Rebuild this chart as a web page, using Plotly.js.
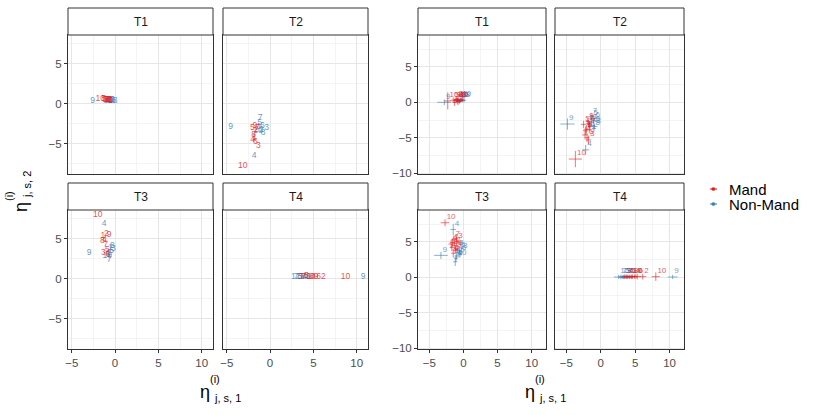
<!DOCTYPE html>
<html>
<head>
<meta charset="utf-8">
<script src="https://cdn.plot.ly/plotly-3.0.1.min.js"></script>
<style>html,body{margin:0;padding:0;background:#fff}#chart{width:830px;height:415px}</style>
</head>
<body>
<div id="chart"></div>
<script>
// ---------- data ----------
const pointLabels = ["1","2","3","4","5","6","7","8","9","10"];
const panelNames = ["T1","T2","T3","T4"];
const seriesNames = ["Mand","Non-Mand"];
const seriesColors = ["#E41A1C","#377EB8"];

// left group (point estimates, drawn as labels); one list per panel T1..T4
const leftMandX = [
  [-0.9,-0.6,-1.1,-0.8,-1.3,-0.5,-1.0,-0.7,-1.2,-1.7],
  [-1.8,-1.6,-1.35,-2.0,-2.05,-1.7,-1.5,-1.9,-1.75,-3.15],
  [-1.4,-1.0,-1.35,-1.2,-0.9,-0.8,-1.1,-1.45,-0.7,-2.0],
  [4.5,6.15,3.5,5.0,4.2,5.6,3.9,4.8,5.3,8.7]
];
const leftMandY = [
  [0.5,0.45,0.55,0.5,0.6,0.4,0.5,0.55,0.45,0.6],
  [-4.2,-3.3,-5.2,-4.5,-2.96,-4.8,-3.0,-3.9,-2.8,-7.7],
  [5.4,5.6,3.3,4.9,3.6,3.0,4.2,4.8,5.5,8.0],
  [0.3,0.3,0.25,0.3,0.35,0.3,0.3,0.25,0.3,0.3]
];
const leftNonX = [
  [-0.6,-0.3,-0.5,-0.9,-0.4,-0.2,-0.7,0.0,-2.6,-0.8],
  [-1.3,-1.0,-0.4,-1.85,-1.2,-0.9,-1.15,-0.8,-4.55,-1.4],
  [-0.5,-0.7,-0.2,-1.25,-0.4,-0.8,-0.7,-0.3,-3.0,-0.9],
  [2.7,3.2,3.6,4.0,3.4,4.4,3.0,3.8,10.75,4.6]
];
const leftNonY = [
  [0.4,0.45,0.35,0.4,0.5,0.4,0.45,0.4,0.35,0.4],
  [-2.9,-3.3,-3.05,-6.45,-2.4,-2.7,-1.8,-3.6,-2.85,-3.4],
  [3.9,3.3,3.75,6.9,3.5,3.1,2.4,4.1,3.3,2.9],
  [0.3,0.3,0.3,0.3,0.3,0.3,0.3,0.3,0.3,0.3]
];

// right group (estimates with uncertainty crosses)
const rightMandX = [
  [-1.2,-0.6,-1.0,-0.8,-1.5,-0.4,-1.3,-0.9,-0.2,-2.3],
  [-2.2,-1.8,-1.8,-2.3,-2.5,-2.0,-1.6,-2.1,-1.9,-3.7],
  [-1.6,-1.3,-1.0,-1.8,-1.2,-1.5,-1.4,-1.7,-1.1,-2.7],
  [4.4,6.1,3.5,4.9,4.1,5.3,3.8,4.6,5.1,8.0]
];
const rightMandY = [
  [0.3,0.2,0.4,0.1,0.3,0.3,0.0,0.2,0.3,0.2],
  [-4.0,-3.0,-5.3,-4.6,-3.1,-5.0,-3.4,-3.8,-2.7,-8.0],
  [4.9,4.5,5.1,4.7,3.8,3.4,5.3,4.2,4.0,7.7],
  [0.1,0.1,0.1,0.1,0.1,0.1,0.1,0.1,0.1,0.1]
];
const rightMandErrX = [
  [0.3,0.3,0.4,0.3,0.4,0.3,0.3,0.3,0.3,0.5],
  [0.4,0.3,0.4,0.4,0.4,0.3,0.3,0.4,0.3,0.95],
  [0.4,0.3,0.3,0.4,0.3,0.3,0.4,0.3,0.3,0.65],
  [0.4,0.5,0.4,0.4,0.4,0.5,0.4,0.4,0.4,0.6]
];
const rightMandErrY = [
  [0.4,0.3,0.4,0.5,0.4,0.3,0.5,0.4,0.3,1.2],
  [0.6,0.5,0.6,0.6,0.5,0.6,0.5,0.6,0.5,1.15],
  [0.6,0.5,0.6,0.6,0.5,0.6,0.6,0.5,0.5,0.5],
  [0.3,0.4,0.3,0.3,0.3,0.4,0.3,0.3,0.3,0.6]
];
const rightNonX = [
  [-0.7,-0.3,-0.5,-0.9,-0.1,-0.6,-1.0,0.1,-2.8,-0.4],
  [-1.4,-1.1,-0.9,-2.2,-1.3,-1.0,-1.4,-1.0,-4.85,-1.6],
  [-0.8,-1.0,-0.3,-1.5,-0.6,-0.5,-1.2,-0.9,-3.3,-1.1],
  [2.6,3.1,3.5,3.9,3.3,4.2,2.9,3.7,10.45,4.5]
];
const rightNonY = [
  [0.3,0.4,0.2,0.4,0.3,0.1,0.3,0.3,0.0,0.4],
  [-2.8,-3.3,-3.4,-6.7,-2.3,-2.6,-2.0,-3.7,-3.06,-3.1],
  [3.5,3.0,3.6,6.75,3.8,3.3,2.2,4.0,3.1,2.7],
  [0.05,0.05,0.05,0.05,0.05,0.05,0.05,0.05,0.05,0.05]
];
const rightNonErrX = [
  [0.3,0.3,0.3,0.3,0.3,0.3,0.3,0.3,1.0,0.3],
  [0.3,0.3,0.4,0.5,0.3,0.3,0.3,0.3,1.05,0.3],
  [0.3,0.3,0.3,0.4,0.3,0.3,0.3,0.3,1.0,0.3],
  [0.7,0.4,0.4,0.4,0.4,0.4,0.4,0.4,0.7,0.4]
];
const rightNonErrY = [
  [0.3,0.3,0.3,0.3,0.3,0.3,0.3,0.3,0.4,0.3],
  [0.5,0.5,0.4,0.7,0.5,0.5,0.5,0.5,0.8,0.5],
  [0.5,0.5,0.5,0.8,0.5,0.5,0.6,0.5,0.5,0.5],
  [0.3,0.3,0.3,0.3,0.3,0.3,0.3,0.3,0.3,0.3]
];

// ---------- layout helpers ----------
const W = 830, H = 415;
const FONT = "Liberation Sans, Arial, sans-serif";
const colPx = [[[68,213],[223,368]], [[418,546],[555,684]]];   // [group][col]
const rowPx = [[35,174.3],[210,349.3]];                         // plot area rows
const stripPx = [[8,35],[183,210]];
const xRanges = [[-5.43,11.3],[-6.66,12.1]];
const yRanges = [[-8.8,8.6],[-10.15,9.5]];
const yTicks = [[-5,0,5],[-10,-5,0,5]];
const xTicks = [-5,0,5,10];

function rgba(hex,a){const r=parseInt(hex.slice(1,3),16),g=parseInt(hex.slice(3,5),16),b=parseInt(hex.slice(5,7),16);return `rgba(${r},${g},${b},${a})`;}
const px2x = p => p/W, px2y = p => 1-p/H;

const layout = {
  width: W, height: H, margin:{l:0,r:0,t:0,b:0},
  paper_bgcolor:"#fff", plot_bgcolor:"#fff", showlegend:false,
  font:{family:FONT, color:"#4D4D4D"},
  shapes:[], annotations:[]
};
const traces = [];

for (let g=0; g<2; g++) {
  for (let p=0; p<4; p++) {
    const col = p%2, row = Math.floor(p/2);
    const k = g*4+p+1;
    const xa = "xaxis"+(k===1?"":k), ya = "yaxis"+(k===1?"":k);
    const xr = "x"+(k===1?"":k), yr = "y"+(k===1?"":k);
    const [x0,x1] = colPx[g][col], [y0,y1] = rowPx[row];
    const common = {
      showgrid:true, gridcolor:"#E6E6E6", gridwidth:1.1, zeroline:false,
      showline:true, mirror:true, linecolor:"#333333", linewidth:1,
      minor:{dtick:2.5, showgrid:true, gridcolor:"#EFEFEF", gridwidth:0.7, ticks:""},
      tickfont:{family:FONT, size:11.5, color:"#4D4D4D"},
      ticklen:3, tickcolor:"#333333", fixedrange:true
    };
    layout[xa] = Object.assign({}, common, {
      domain:[px2x(x0), px2x(x1)], range:xRanges[g], anchor:yr,
      tickmode:"array", tickvals:xTicks,
      ticks: row===1 ? "outside":"", showticklabels: row===1
    });
    layout[ya] = Object.assign({}, common, {
      domain:[px2y(y1), px2y(y0)], range:yRanges[g], anchor:xr,
      tickmode:"array", tickvals:yTicks[g],
      ticks: col===0 ? "outside":"", showticklabels: col===0
    });
    // strip
    const [s0,s1] = stripPx[row];
    layout.shapes.push({type:"rect", xref:"paper", yref:"paper",
      x0:px2x(x0), x1:px2x(x1), y0:px2y(s1), y1:px2y(s0),
      fillcolor:"#FFFFFF", line:{color:"#333333", width:1}});
    layout.annotations.push({xref:"paper", yref:"paper", x:px2x((x0+x1)/2), y:px2y((s0+s1)/2),
      text:panelNames[p], showarrow:false, xanchor:"center", yanchor:"middle",
      font:{family:FONT, size:12, color:"#1A1A1A"}});

    // data
    const order = [1,0]; // Non-Mand under Mand
    for (const s of order) {
      const col_ = seriesColors[s];
      if (g===0) {
        const X = s===0 ? leftMandX[p] : leftNonX[p];
        const Y = s===0 ? leftMandY[p] : leftNonY[p];
        traces.push({type:"scatter", mode:"text", xaxis:xr, yaxis:yr,
          x:X, y:Y, text:pointLabels, name:seriesNames[s],
          textposition:"middle center",
          textfont:{family:FONT, size:8.5, color:rgba(col_,0.8)}, hoverinfo:"skip"});
      } else {
        const X = s===0 ? rightMandX[p] : rightNonX[p];
        const Y = s===0 ? rightMandY[p] : rightNonY[p];
        const EX = s===0 ? rightMandErrX[p] : rightNonErrX[p];
        const EY = s===0 ? rightMandErrY[p] : rightNonErrY[p];
        traces.push({type:"scatter", mode:"markers+text", xaxis:xr, yaxis:yr,
          x:X, y:Y, text:pointLabels, name:seriesNames[s],
          marker:{size:1, color:rgba(col_,0)},
          error_x:{type:"data", array:EX, visible:true, color:rgba(col_,0.6), thickness:1, width:0},
          error_y:{type:"data", array:EY, visible:true, color:rgba(col_,0.6), thickness:1, width:0},
          textposition:"top right",
          textfont:{family:FONT, size:8, color:rgba(col_,0.75)}, hoverinfo:"skip"});
      }
    }
  }
}

// axis titles (eta with stacked super/subscripts)
function ann(xp, yp, text, size, angle){
  layout.annotations.push({xref:"paper", yref:"paper", x:px2x(xp), y:px2y(yp), text:text,
    showarrow:false, xanchor:"center", yanchor:"middle", textangle:angle||0,
    font:{family:FONT, size:size, color:"#000"}});
}
for (const cx of [205, 530]) {
  ann(cx, 392, "η", 18);
  ann(cx+10, 379, "(i)", 11);
  ann(cx+22, 398, "j, s, 1", 11);
}
ann(21, 207, "η", 18, -90);
ann(9, 196, "(i)", 11, -90);
ann(27, 185, "j, s, 2", 11, -90);

// legend
const legRows = [189, 204];
for (let s=0; s<2; s++) {
  const yy = legRows[s];
  layout.shapes.push({type:"line", xref:"paper", yref:"paper",
    x0:px2x(710), x1:px2x(717), y0:px2y(yy), y1:px2y(yy), line:{color:seriesColors[s], width:1}});
  layout.shapes.push({type:"circle", xref:"paper", yref:"paper",
    x0:px2x(711.8), x1:px2x(715), y0:px2y(yy+1.6), y1:px2y(yy-1.6),
    fillcolor:seriesColors[s], line:{color:seriesColors[s], width:0.5}});
  layout.annotations.push({xref:"paper", yref:"paper", x:px2x(727), y:px2y(yy),
    text:seriesNames[s], showarrow:false, xanchor:"left", yanchor:"middle",
    font:{family:FONT, size:15, color:"#000"}});
}

Plotly.newPlot("chart", traces, layout, {staticPlot:true, displayModeBar:false});
</script>
</body>
</html>
